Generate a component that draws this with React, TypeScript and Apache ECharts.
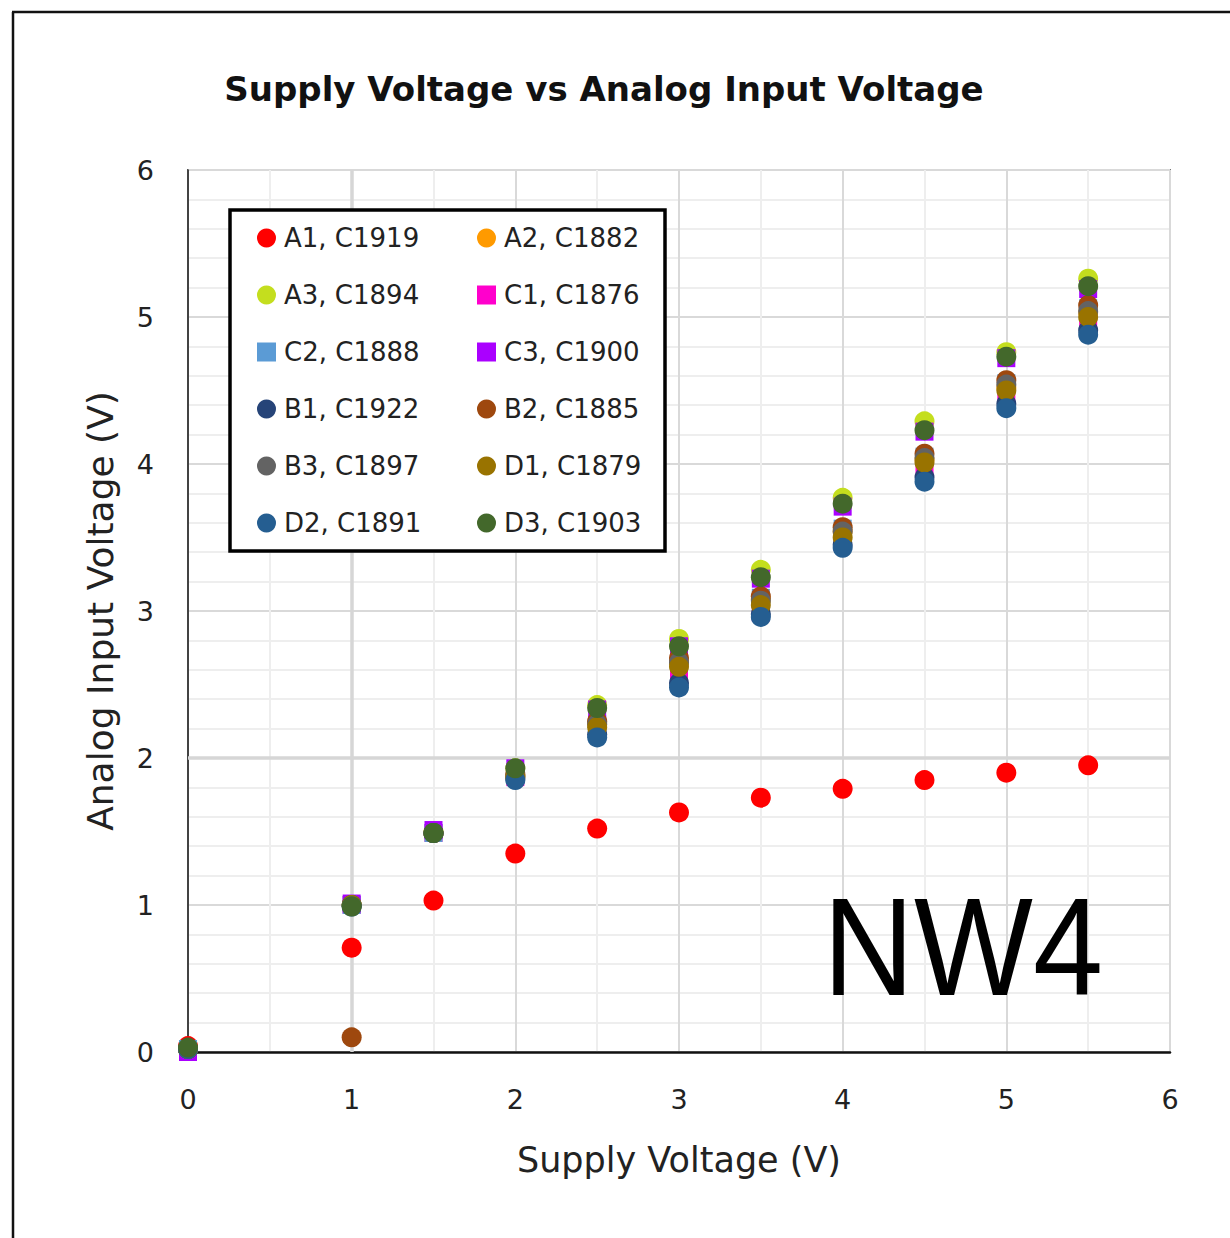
import React, { useEffect, useRef } from "react";
import * as echarts from "echarts";

const SUPPLY_V = [0, 1, 1.5, 2, 2.5, 3, 3.5, 4, 4.5, 5, 5.5];

const SERIES_NAMES = [
  "A1, C1919", "A2, C1882", "A3, C1894", "C1, C1876", "C2, C1888", "C3, C1900",
  "B1, C1922", "B2, C1885", "B3, C1897", "D1, C1879", "D2, C1891", "D3, C1903",
];
const SERIES_COLORS = [
  "#FF0000", "#FF9A00", "#C4DE1E", "#FF00CC", "#5B9BD5", "#AA00FF",
  "#264478", "#9E480E", "#636363", "#997300", "#255E91", "#43682B",
];
const SERIES_SYMBOLS = [
  "circle", "circle", "circle", "rect", "rect", "rect",
  "circle", "circle", "circle", "circle", "circle", "circle",
];

const A1 = [0.04, 0.71, 1.03, 1.35, 1.52, 1.63, 1.73, 1.79, 1.85, 1.9, 1.95];
const A2 = [0.02, 1.0, 1.49, 1.88, 2.24, 2.65, 3.08, 3.54, 4.03, 4.52, 5.03];
const A3 = [0.02, 1.0, 1.5, 1.93, 2.36, 2.81, 3.28, 3.77, 4.29, 4.76, 5.26];
const C1 = [0.01, 1.0, 1.49, 1.87, 2.18, 2.58, 2.99, 3.47, 3.96, 4.47, 4.96];
const C2 = [0.02, 1.0, 1.49, 1.89, 2.23, 2.66, 3.09, 3.56, 4.05, 4.55, 5.06];
const C3 = [0.0, 1.01, 1.51, 1.93, 2.33, 2.76, 3.22, 3.71, 4.22, 4.72, 5.19];
const B1 = [0.02, 1.0, 1.49, 1.86, 2.16, 2.51, 2.98, 3.45, 3.91, 4.41, 4.91];
const B2 = [0.02, 0.1, 1.49, 1.89, 2.25, 2.68, 3.1, 3.57, 4.07, 4.57, 5.08];
const B3 = [0.02, 1.0, 1.49, 1.88, 2.23, 2.65, 3.07, 3.54, 4.04, 4.54, 5.04];
const D1 = [0.02, 1.0, 1.49, 1.87, 2.21, 2.62, 3.04, 3.5, 4.01, 4.5, 5.0];
const D2 = [0.02, 0.99, 1.49, 1.85, 2.14, 2.48, 2.96, 3.43, 3.88, 4.38, 4.88];
const D3 = [0.03, 0.99, 1.49, 1.93, 2.34, 2.76, 3.23, 3.73, 4.23, 4.73, 5.21];

const SERIES_VALUES = [A1, A2, A3, C1, C2, C3, B1, B2, B3, D1, D2, D3];

const LEGEND_COL1 = [0, 2, 4, 6, 8, 10];
const LEGEND_COL2 = [1, 3, 5, 7, 9, 11];

// gridlines drawn a little darker in the original
const HEAVY_X_LINES = [1];
const HEAVY_Y_LINES = [2];

const FONT = "DejaVu Sans";

export default function App() {
  const ref = useRef<HTMLDivElement>(null);

  useEffect(() => {
    if (!ref.current) return;
    const chart = echarts.init(ref.current, null, { renderer: "svg" });

    const series: any[] = [
      {
        name: "__grid",
        type: "scatter",
        data: [],
        z: 1,
        silent: true,
        markLine: {
          z: 1,
          silent: true,
          symbol: "none",
          label: { show: false },
          lineStyle: { color: "#d6d6d6", width: 3.5, type: "solid" },
          data: [
            ...HEAVY_X_LINES.map((v) => ({ xAxis: v })),
            ...HEAVY_Y_LINES.map((v) => ({ yAxis: v })),
          ],
        },
      },
      ...SERIES_NAMES.map((name, i) => ({
        name,
        type: "scatter",
        z: 3,
        symbol: SERIES_SYMBOLS[i],
        symbolSize: SERIES_SYMBOLS[i] === "rect" ? 18 : 20,
        itemStyle: { color: SERIES_COLORS[i], opacity: 1 },
        data: SUPPLY_V.map((x, j) => [x, SERIES_VALUES[i][j]]),
      })),
    ];

    const legendData = (idx: number[]) =>
      idx.map((i) => ({
        name: SERIES_NAMES[i],
        icon: SERIES_SYMBOLS[i] === "rect" ? "rect" : "circle",
        itemStyle: { color: SERIES_COLORS[i] },
      }));

    const legendCommon = {
      orient: "vertical",
      top: 223,
      padding: 0,
      itemWidth: 19,
      itemHeight: 19,
      itemGap: 27,
      z: 10,
      selectedMode: false,
      textStyle: {
        fontFamily: FONT,
        fontSize: 26,
        color: "#222",
        lineHeight: 30,
        padding: [0, 0, 0, 3],
      },
    };

    chart.setOption({
      animation: false,
      backgroundColor: "#ffffff",
      title: {
        text: "Supply Voltage vs Analog Input Voltage",
        left: 599,
        textAlign: "center",
        top: 67,
        textStyle: {
          fontFamily: FONT,
          fontWeight: "bold",
          fontSize: 34,
          color: "#111",
        },
      },
      grid: {
        left: 188,
        top: 170,
        right: 60,
        bottom: 186,
        show: true,
        borderColor: "#111",
        borderWidth: 1.5,
        backgroundColor: "transparent",
      },
      xAxis: {
        type: "value",
        min: 0,
        max: 6,
        interval: 1,
        name: "Supply Voltage (V)",
        nameLocation: "middle",
        nameGap: 90,
        nameTextStyle: { fontFamily: FONT, fontSize: 35, color: "#222" },
        axisLine: { show: true, lineStyle: { color: "#111", width: 2.5 } },
        axisTick: { show: false },
        axisLabel: { fontFamily: FONT, fontSize: 27, color: "#222", margin: 34 },
        splitLine: { show: true, lineStyle: { color: "#d9d9d9", width: 2 } },
        minorTick: { show: false, splitNumber: 2 },
        minorSplitLine: { show: true, lineStyle: { color: "#eeeeee", width: 2 } },
      },
      yAxis: {
        type: "value",
        min: 0,
        max: 6,
        interval: 1,
        name: "Analog Input Voltage (V)",
        nameLocation: "middle",
        nameGap: 70,
        nameTextStyle: { fontFamily: FONT, fontSize: 36, color: "#222" },
        axisLine: { show: true, lineStyle: { color: "#111", width: 1.5 } },
        axisTick: { show: false },
        axisLabel: { fontFamily: FONT, fontSize: 27, color: "#222", margin: 34 },
        splitLine: { show: true, lineStyle: { color: "#d9d9d9", width: 2 } },
        minorTick: { show: false, splitNumber: 5 },
        minorSplitLine: { show: true, lineStyle: { color: "#eeeeee", width: 2 } },
      },
      legend: [
        { ...legendCommon, left: 257, data: legendData(LEGEND_COL1) },
        { ...legendCommon, left: 477, data: legendData(LEGEND_COL2) },
      ],
      graphic: [
        {
          type: "line",
          z: 20,
          shape: { x1: 13, y1: 12, x2: 13, y2: 1238 },
          style: { stroke: "#111", lineWidth: 2.5 },
        },
        {
          type: "line",
          z: 20,
          shape: { x1: 12, y1: 12, x2: 1230, y2: 12 },
          style: { stroke: "#111", lineWidth: 2.5 },
        },
        {
          type: "rect",
          z: 5,
          shape: { x: 230, y: 210, width: 435, height: 341 },
          style: { fill: "#ffffff", stroke: "#000", lineWidth: 3.5 },
        },
        {
          type: "text",
          z: 20,
          scaleY: 1.1,
          originY: 947,
          style: {
            text: "NW4",
            x: 823,
            y: 947,
            verticalAlign: "middle",
            fontFamily: "Liberation Sans",
            fontSize: 126,
            fill: "#000",
          },
        },
      ],
      series,
    });

    return () => chart.dispose();
  }, []);

  return (
    <div
      ref={ref}
      style={{ position: "absolute", left: 0, top: 0, width: 1230, height: 1238 }}
    />
  );
}
